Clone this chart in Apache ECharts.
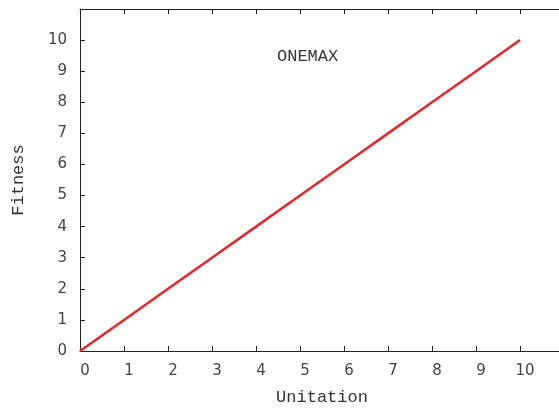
<!DOCTYPE html>
<html><head><meta charset="utf-8">
<script src="https://cdn.jsdelivr.net/npm/echarts@6/dist/echarts.min.js"></script>
<style>html,body{margin:0;padding:0;background:#fff}#c{width:559px;height:408px}</style>
</head><body><div id="c"></div>
<script>
const unitation = [0,1,2,3,4,5,6,7,8,9,10];
const fitness = [0,1,2,3,4,5,6,7,8,9,10];
const xTicks = [0,1,2,3,4,5,6,7,8,9,10];
const yTicks = [0,1,2,3,4,5,6,7,8,9,10];
const titleText = 'ONEMAX';
const xName = 'Unitation';
const yName = 'Fitness';

const chart = echarts.init(document.getElementById('c'), null, {renderer:'canvas'});
const axisColor = '#222';
const labelStyle = {color:'#444', fontFamily:'DejaVu Sans', fontSize:15};
const monoFont = 'Liberation Mono';
function baseAxis(extra){
  return Object.assign({
    type:'value', min:0, max:11, interval:1,
    axisLine:{show:true, onZero:false, lineStyle:{color:axisColor, width:1}},
    axisTick:{show:true, inside:true, length:5, lineStyle:{color:axisColor}},
    splitLine:{show:false}
  }, extra);
}
chart.setOption({
  animation:false,
  backgroundColor:'#fff',
  grid:{left:80, right:-5, top:9, bottom:57, containLabel:false, outerBoundsMode:'none'},
  graphic:[{type:'text', left:277, top:48, style:{text:titleText, font:'17px "Liberation Mono"', fill:'#333'}}],
  xAxis:[
    baseAxis({position:'bottom', name:xName, nameLocation:'middle', nameGap:38,
      nameTextStyle:{fontFamily:monoFont, fontSize:17, color:'#333'},
      axisLabel:Object.assign({margin:13, padding:[0,0,0,10], formatter:v=> xTicks.includes(v)? String(v):''}, labelStyle)}),
    baseAxis({position:'top', axisLabel:{show:false}})
  ],
  yAxis:[
    baseAxis({position:'left', name:yName, nameLocation:'middle', nameGap:53,
      nameTextStyle:{fontFamily:monoFont, fontSize:17, color:'#333'},
      axisLabel:Object.assign({margin:13, formatter:v=> yTicks.includes(v)? String(v):''}, labelStyle)}),
    baseAxis({position:'right', axisLabel:{show:false}})
  ],
  series:[{type:'line', data:unitation.map((u,i)=>[u, fitness[i]]), showSymbol:false,
    lineStyle:{color:'#e8262a', width:2.5}, xAxisIndex:0, yAxisIndex:0}]
});
</script></body></html>
